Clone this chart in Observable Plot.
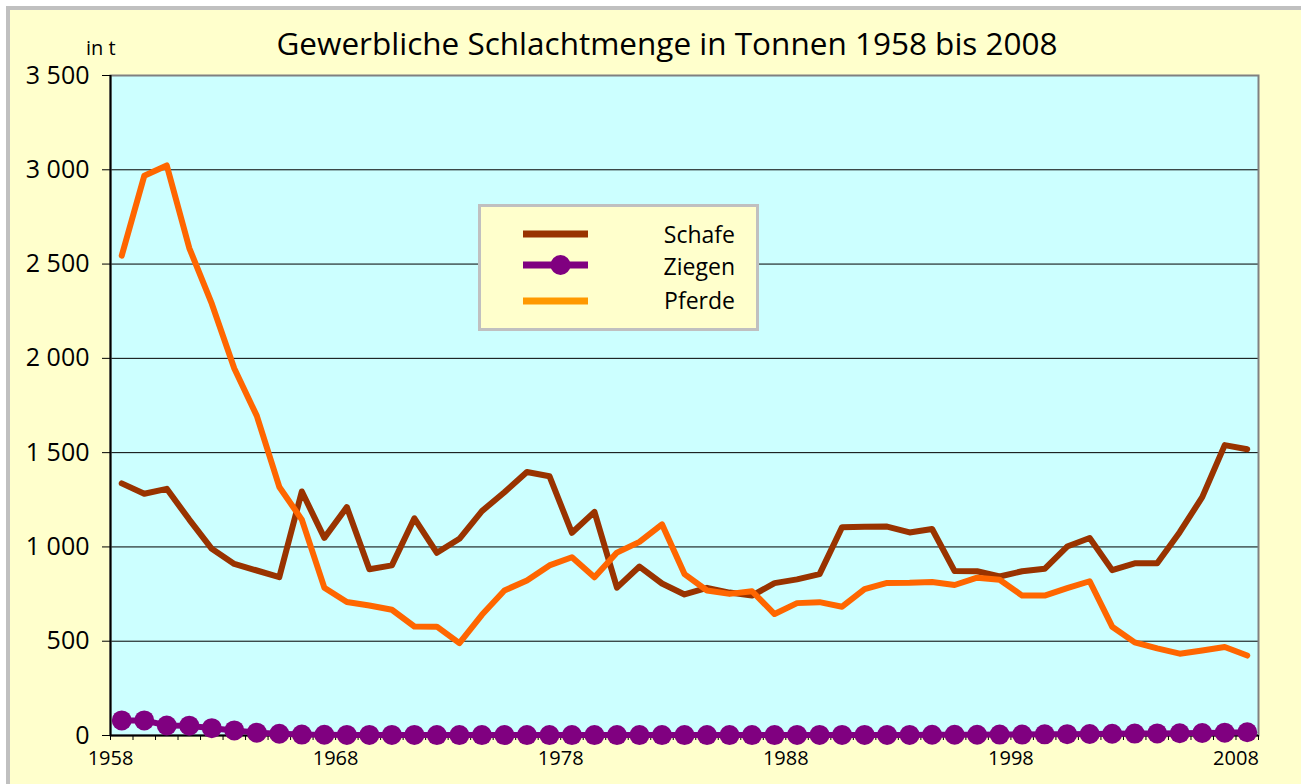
<!DOCTYPE html>
<html>
<head>
<meta charset="utf-8">
<script src="https://cdn.jsdelivr.net/npm/d3@7"></script>
<script src="https://cdn.jsdelivr.net/npm/@observablehq/plot@0.6"></script>
<style>
  html, body { margin: 0; padding: 0; background: #ffffff; }
  body { width: 1301px; height: 784px; position: relative; overflow: hidden; font-family: "Open Sans", sans-serif; }
  #frame { position: absolute; left: 6px; top: 6px; width: 1301px; height: 784px; box-sizing: border-box;
           border-left: 4px solid #c0c0c0; border-top: 4px solid #c0c0c0; background: #ffffcc; }
  #title { position: absolute; left: 0; top: 27px; width: 1334px; text-align: center; font-size: 31.5px;
           line-height: 31.5px; color: #000; white-space: nowrap; }
  #unit { position: absolute; left: 86px; top: 38px; font-size: 20px; line-height: 20px; color: #000; }
  #chart { position: absolute; left: 0; top: 60px; }
  #legend { position: absolute; left: 478px; top: 204px; width: 281px; height: 127px; box-sizing: border-box;
            border: 3px solid #c0c0c0; background: #ffffcc; }
  #legend svg { position: absolute; left: 0; top: 0; }
</style>
</head>
<body>
<div id="frame"></div>
<div id="title">Gewerbliche Schlachtmenge in Tonnen 1958 bis 2008</div>
<div id="unit">in t</div>
<div id="chart"></div>
<div id="legend"></div>
<script>
// ---- Data ----
const years = d3.range(1958, 2009);
const seriesNames = ["Schafe", "Ziegen", "Pferde"];
const schafe = [1337, 1282, 1308, 1145, 990, 910, 875, 840, 1294, 1048,
                1211, 882, 902, 1152, 969, 1043, 1190, 1290, 1397, 1375,
                1075, 1186, 784, 896, 806, 748, 783, 758, 742, 808,
                828, 856, 1105, 1107, 1108, 1077, 1095, 872, 871, 843,
                871, 884, 1002, 1047, 877, 913, 913, 1078, 1264, 1540, 1518];
const ziegen = [80, 80, 53, 52, 39, 27, 15, 9, 5, 4,
                3, 3, 3, 3, 2, 2, 2, 2, 2, 2,
                2, 2, 2, 2, 2, 2, 2, 2, 2, 2,
                3, 3, 3, 3, 3, 3, 4, 4, 4, 5,
                5, 6, 7, 8, 9, 10, 11, 12, 13, 15, 17];
const pferde = [2545, 2968, 3023, 2585, 2290, 1946, 1695, 1318, 1145, 784,
                708, 689, 667, 578, 577, 490, 640, 769, 822, 902,
                945, 839, 970, 1027, 1120, 856, 769, 751, 765, 644,
                702, 707, 683, 776, 809, 810, 814, 798, 837, 826,
                742, 742, 781, 818, 577, 494, 462, 434, 451, 469, 424];
const lineColors = ["#993300", "#800080", "#ff6600"];
const legendColors = ["#993300", "#800080", "#ff9900"];
const yTicks = [0, 500, 1000, 1500, 2000, 2500, 3000, 3500];
const xLabelYears = [1958, 1968, 1978, 1988, 1998, 2008];
const xBoundaries = d3.range(1958, 2010);

const rows = (vals) => years.map((year, i) => ({year, value: vals[i]}));
const schafeRows = rows(schafe);
const ziegenRows = rows(ziegen);
const pferdeRows = rows(pferde);

const fmt = (d) => d3.format(",")(d).replace(/,/g, " ");
const cx = (d) => d.year + 0.5; // categories centred between tick marks

const chart = Plot.plot({
  width: 1301,
  height: 724,
  marginLeft: 110,
  marginRight: 43,
  marginTop: 15,
  marginBottom: 49,
  style: { background: "transparent", fontFamily: "Open Sans, sans-serif", color: "#000", overflow: "visible" },
  x: { type: "linear", domain: [1958, 2009], axis: null },
  y: { type: "linear", domain: [0, 3500], axis: null },
  marks: [
    Plot.frame({ fill: "#ccffff" }),
    Plot.gridY(yTicks, { stroke: "#000", strokeOpacity: 1, strokeWidth: 1 }),
    Plot.frame({ stroke: "#808080", strokeWidth: 2 }),
    Plot.ruleX([1958], { stroke: "#000", strokeWidth: 2 }),
    Plot.ruleY([0], { stroke: "#000", strokeWidth: 2 }),
    Plot.axisY({ ticks: yTicks, label: null, tickSize: 8, tickPadding: 13, tickFormat: fmt, fontSize: 25, stroke: "#000" }),
    Plot.axisX({ ticks: xBoundaries, label: null, tickSize: 5, tickFormat: () => "", stroke: "#000" }),
    Plot.axisX({ ticks: xLabelYears, label: null, tickSize: 0, tickPadding: 15, tickFormat: (d) => String(d), fontSize: 20 }),
    Plot.line(schafeRows, { x: cx, y: "value", stroke: lineColors[0], strokeWidth: 6, strokeLinecap: "round", strokeLinejoin: "round" }),
    Plot.line(ziegenRows, { x: cx, y: "value", stroke: lineColors[1], strokeWidth: 6, strokeLinecap: "round", strokeLinejoin: "round" }),
    Plot.dot(ziegenRows, { x: cx, y: "value", r: 10, fill: lineColors[1], stroke: null }),
    Plot.line(pferdeRows, { x: cx, y: "value", stroke: lineColors[2], strokeWidth: 6, strokeLinecap: "round", strokeLinejoin: "round" })
  ]
});
document.getElementById("chart").appendChild(chart);

// ---- Legend ----
const lg = d3.select("#legend").append("svg").attr("width", 275).attr("height", 121)
  .style("font-family", "Open Sans, sans-serif");
const rowsY = [27, 58, 94];
const baseY = [36, 68, 102];
seriesNames.forEach((name, i) => {
  lg.append("line").attr("x1", 42).attr("x2", 107).attr("y1", rowsY[i]).attr("y2", rowsY[i])
    .attr("stroke", legendColors[i]).attr("stroke-width", 7);
  if (name === "Ziegen") {
    lg.append("circle").attr("cx", 79.5).attr("cy", rowsY[i]).attr("r", 10).attr("fill", legendColors[i]);
  }
  lg.append("text").attr("x", 254).attr("y", baseY[i]).attr("text-anchor", "end")
    .attr("font-size", 23).attr("fill", "#000").text(name);
});
</script>
</body>
</html>
